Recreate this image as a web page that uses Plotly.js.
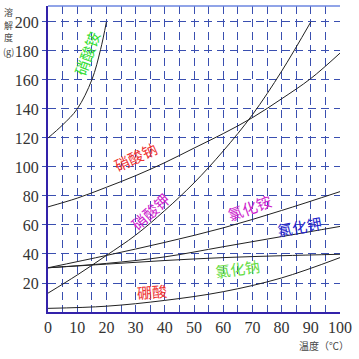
<!DOCTYPE html>
<html><head><meta charset="utf-8">
<script src="https://cdn.plot.ly/plotly-3.0.1.min.js"></script>
<style>html,body{margin:0;padding:0;background:#fff}#c{width:359px;height:359px}</style>
</head><body><div id="c"></div>
<script>
// Temperature (°C) values for each curve
const tAmmNitrate = [0, 5, 10, 15, 18, 20];
const sAmmNitrate = [120, 129, 140, 160, 181, 200];
const tStd = [0, 10, 20, 30, 40, 50, 60, 70, 80, 90, 100];
const sNaNO3 = [72.5, 78.5, 86, 94, 103, 113, 123, 134, 147, 161, 178.5];
const tKNO3 = [0, 10, 20, 30, 40, 50, 60, 70, 80, 90];
const sKNO3 = [13, 25.5, 39, 53, 70, 89, 111, 136, 166, 200];
const tCl = [0, 20, 40, 60, 80, 100];
const sNH4Cl = [30.5, 39, 48, 58, 70, 83];
const sKCl = [30.5, 33.5, 38, 45, 52, 59];
const sNaCl = [30.5, 33, 35.5, 37.5, 38.8, 39.8];
const sBoric = [2.5, 4, 8, 14, 23.5, 37.5];
const xTicks = [0, 10, 20, 30, 40, 50, 60, 70, 80, 90, 100];
const yTicks = [20, 40, 60, 80, 100, 120, 140, 160, 180, 200];
const yTitleChars = ['溶', '解', '度', '(g)'];

const line = {color: '#222', width: 1, shape: 'spline', smoothing: 1};
const mk = (x, y) => ({x, y, type: 'scatter', mode: 'lines', line, hoverinfo: 'skip', showlegend: false});
const data = [
  mk(tAmmNitrate, sAmmNitrate),
  mk(tStd, sNaNO3),
  mk(tKNO3, sKNO3),
  mk(tCl, sNH4Cl),
  mk(tCl, sKCl),
  mk(tCl, sNaCl),
  mk(tCl, sBoric)
];

const cjk = '"Noto Sans CJK SC", sans-serif';
const serif = 'Liberation Serif, Times New Roman, serif';
const lab = (text, x, y, color, angle, size) => ({text, x, y, xref: 'x', yref: 'y', showarrow: false, textangle: angle,
  font: {family: cjk, size: size || 14, color}});

const ann = [
  lab('硝酸铵', 13.4, 178, '#33dd33', -70, 15),
  lab('硝酸钠', 30, 107, '#ee3333', -25, 15),
  lab('硝酸钾', 35, 69, '#cc22cc', -42, 15),
  lab('氯化铵', 69, 72, '#cc22cc', -20, 15),
  lab('氯化钾', 86, 59, '#2222cc', -10, 15),
  lab('氯化钠', 65, 30, '#66dd44', -8, 15),
  lab('硼酸', 35.5, 14, '#ee3333', -5, 15),
  {text: '温度（℃）', xref: 'paper', yref: 'paper', x: 0.945, y: (312 - 345) / 306, xanchor: 'center', yanchor: 'middle',
   showarrow: false, font: {family: cjk, size: 10, color: '#444'}}
];
yTitleChars.forEach((c, i) => ann.push({text: c, xref: 'paper', yref: 'paper', x: (8 - 48) / 292, y: (312 - (12 + 13 * i)) / 306,
  xanchor: 'center', yanchor: 'middle', showarrow: false, borderpad: 0, borderwidth: 0,
  font: {family: cjk, size: 9, color: '#444'}}));

const layout = {
  width: 359, height: 359,
  margin: {l: 48, r: 19, t: 6, b: 47},
  paper_bgcolor: '#fff', plot_bgcolor: '#fff',
  xaxis: {
    range: [0, 100], tickvals: xTicks, ticktext: xTicks.map(String),
    showgrid: true, gridcolor: '#3a4fb0', griddash: '8px,5px', gridwidth: 1,
    minor: {dtick: 5, tick0: 0, showgrid: true, gridcolor: '#3a4fb0', griddash: '8px,5px', gridwidth: 1},
    zeroline: false, showline: true, linecolor: '#3322aa', linewidth: 2,
    ticks: '', tickfont: {family: serif, size: 16, color: '#333'}
  },
  yaxis: {
    range: [0, 211], tickvals: yTicks, ticktext: yTicks.map(String),
    showgrid: true, gridcolor: '#3a4fb0', griddash: '8px,5px', gridwidth: 1,
    zeroline: false, showline: true, linecolor: '#3322aa', linewidth: 2,
    ticks: 'outside', ticklen: 4, tickcolor: '#3a4fb0',
    tickfont: {family: serif, size: 16, color: '#333'}
  },
  shapes: [
    {type: 'line', xref: 'paper', yref: 'paper', x0: 0, x1: 1, y0: 1, y1: 1, line: {color: '#6d86e0', width: 1.5}}
  ],
  annotations: ann
};
Plotly.newPlot('c', data, layout, {displayModeBar: false, staticPlot: true});
</script></body></html>
